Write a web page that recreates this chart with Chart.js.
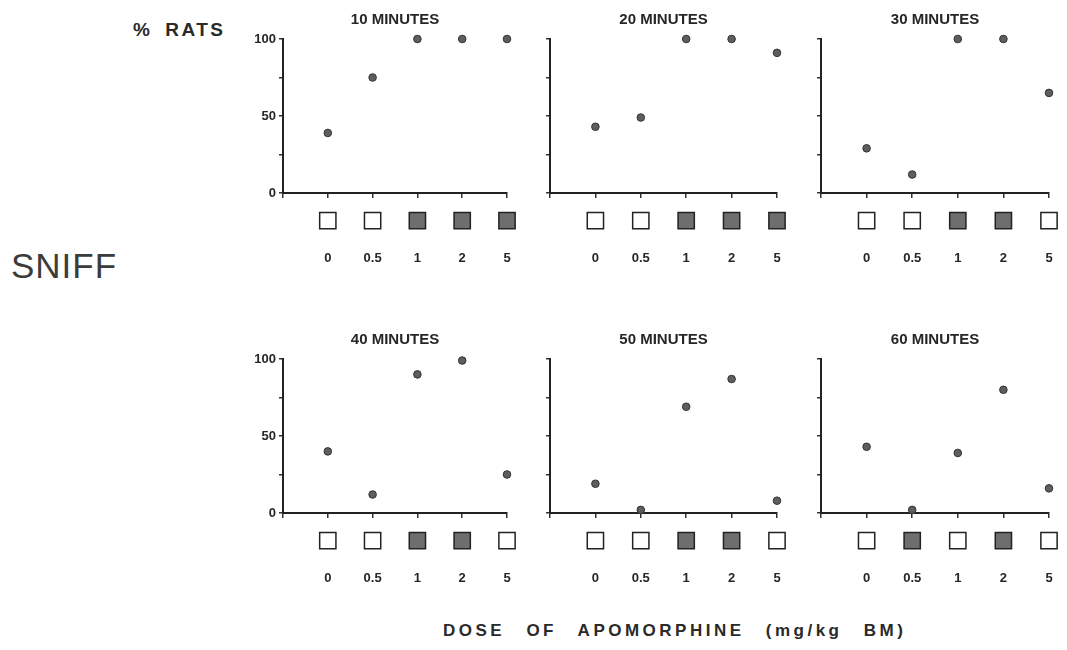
<!DOCTYPE html>
<html>
<head>
<meta charset="utf-8">
<script src="https://cdn.jsdelivr.net/npm/chart.js@4.4.0/dist/chart.umd.min.js"></script>
<style>
body{margin:0;background:#fff;width:1067px;height:650px;position:relative;overflow:hidden;font-family:"Liberation Sans",Arial,sans-serif;}
canvas{position:absolute;}
.lbl{position:absolute;white-space:nowrap;color:#2a2a2a;}
</style>
</head>
<body>
<div class="lbl" style="left:133px;top:19px;font-size:19px;font-weight:bold;letter-spacing:2.5px;word-spacing:5px">% RATS</div>
<div class="lbl" style="left:11px;top:246px;font-size:35px;letter-spacing:1px;color:#3c3c3c">SNIFF</div>
<div class="lbl" style="left:443px;top:621px;font-size:17px;font-weight:bold;letter-spacing:3.5px;word-spacing:13px">DOSE OF APOMORPHINE (mg/kg BM)</div>
<script>
// data (% of rats sniffing per dose, per time point)
var doseLabels = ['0', '0.5', '1', '2', '5'];
var doseSlots = [1, 2, 3, 4, 5];
var panelTitles = ['10 MINUTES', '20 MINUTES', '30 MINUTES', '40 MINUTES', '50 MINUTES', '60 MINUTES'];

var sniff10 = [39, 75, 100, 100, 100];
var sniff20 = [43, 49, 100, 100, 91];
var sniff30 = [29, 12, 100, 100, 65];
var sniff40 = [40, 12, 90, 99, 25];
var sniff50 = [19, 2, 69, 87, 8];
var sniff60 = [43, 2, 39, 80, 16];

// filled square = significant
var signif10 = [0, 0, 1, 1, 1];
var signif20 = [0, 0, 1, 1, 1];
var signif30 = [0, 0, 1, 1, 0];
var signif40 = [0, 0, 1, 1, 0];
var signif50 = [0, 0, 1, 1, 0];
var signif60 = [0, 1, 0, 1, 0];

var yTickLabels = [0, 50, 100];

// layout
var axisLeft = [283, 550, 821];
var areaWidth = [224, 227, 228];
var rowTop = [0, 320];
var MARK_Y = -18;
var inkColor = '#262626';
var tickFont = { family: '"Liberation Sans", Arial, sans-serif', size: 13, weight: 'bold' };
var bigArea = { left: -10000, right: 10000, top: -10000, bottom: 10000 };

// squares sit below the x axis, outside the chart area, so draw them here
var markerRow = {
    id: 'markerRow',
    afterDatasetsDraw: function (chart) {
        chart.getDatasetMeta(1).data.forEach(function (el) {
            el.draw(chart.ctx, bigArea);
        });
    }
};

function makePanel(idx, values, signif) {
    var col = idx % 3, row = Math.floor(idx / 3);
    var canvas = document.createElement('canvas');
    canvas.width = 45 + areaWidth[col] + 16;
    canvas.height = 39 + 154 + 80;
    canvas.style.left = (axisLeft[col] - 45) + 'px';
    canvas.style.top = rowTop[row] + 'px';
    document.body.appendChild(canvas);

    new Chart(canvas, {
        type: 'scatter',
        data: {
            datasets: [{
                data: doseSlots.map(function (x, i) { return { x: x, y: values[i] }; }),
                pointRadius: 3.8,
                backgroundColor: '#5e5e5e',
                borderColor: '#333',
                borderWidth: 1,
                clip: false
            }, {
                data: doseSlots.map(function (x) { return { x: x, y: MARK_Y }; }),
                pointStyle: 'rect',
                pointRadius: 11.5,
                backgroundColor: signif.map(function (s) { return s ? '#6e6e6e' : '#fff'; }),
                borderColor: '#222',
                borderWidth: 1.5,
                clip: false
            }]
        },
        plugins: [markerRow],
        options: {
            responsive: false,
            animation: false,
            layout: { autoPadding: false, padding: { top: 0, right: 16, bottom: 0, left: 0 } },
            plugins: {
                legend: { display: false },
                tooltip: { enabled: false },
                title: {
                    display: true,
                    text: panelTitles[idx],
                    fullSize: false,
                    color: inkColor,
                    font: { family: '"Liberation Sans", Arial, sans-serif', size: 15, weight: 'bold' },
                    padding: { top: 11, bottom: 10 }
                }
            },
            scales: {
                x: {
                    type: 'linear',
                    min: 0,
                    max: 5,
                    afterFit: function (s) {
                        s.height = 80;
                        // the big label padding is vertical only; keep it out of the side padding
                        s.paddingLeft = 3;
                        s.paddingRight = 3;
                    },
                    ticks: {
                        stepSize: 1,
                        padding: 53,
                        maxRotation: 0,
                        autoSkip: false,
                        color: inkColor,
                        font: tickFont,
                        callback: function (v) { return v >= 1 ? doseLabels[v - 1] : ''; }
                    },
                    grid: { drawOnChartArea: false, tickLength: 5, color: '#333', lineWidth: 1.5 },
                    border: { color: '#222', width: 2 }
                },
                y: {
                    min: 0,
                    max: 100,
                    afterFit: function (s) { s.width = 45; },
                    ticks: {
                        stepSize: 25,
                        padding: 3,
                        color: inkColor,
                        font: tickFont,
                        callback: function (v) { return (col === 0 && yTickLabels.indexOf(v) >= 0) ? v : ''; }
                    },
                    grid: { drawOnChartArea: false, tickLength: 4, color: '#333', lineWidth: 1.5 },
                    border: { color: '#222', width: 2 }
                }
            }
        }
    });
}

makePanel(0, sniff10, signif10);
makePanel(1, sniff20, signif20);
makePanel(2, sniff30, signif30);
makePanel(3, sniff40, signif40);
makePanel(4, sniff50, signif50);
makePanel(5, sniff60, signif60);
</script>
</body>
</html>
